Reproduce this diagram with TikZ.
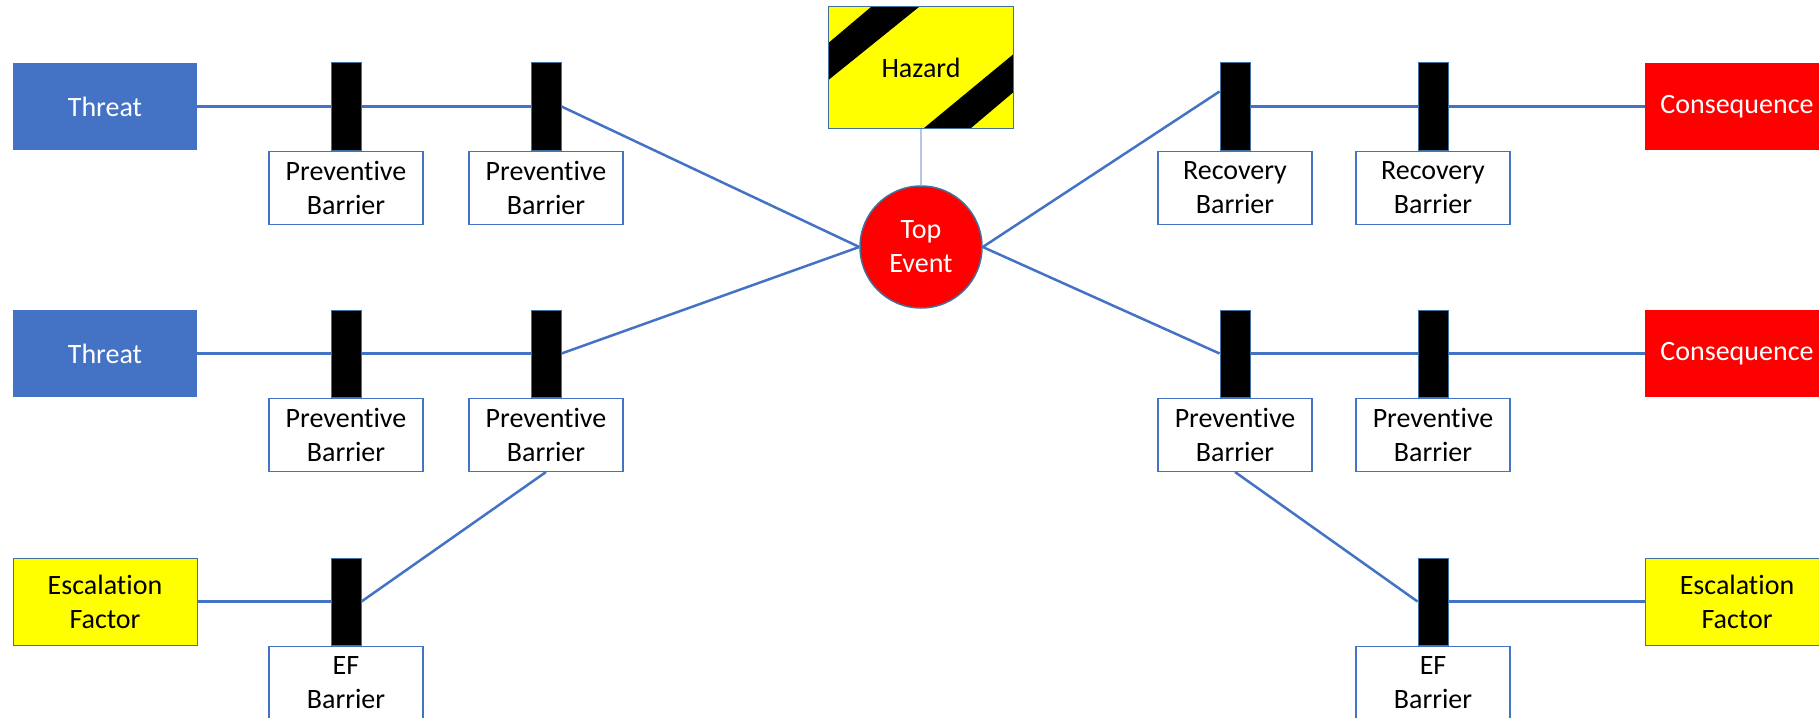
\documentclass[tikz,border=0pt]{standalone}
\usepackage{fontspec}
\setmainfont{Carlito}[Ligatures={NoCommon,NoContextual,NoRare}]
\usetikzlibrary{calc}
\definecolor{threatblue}{HTML}{4472C4}
\definecolor{edgeblue}{HTML}{41719C}
\definecolor{linkblue}{HTML}{4472C4}
\definecolor{hazlink}{HTML}{B4C7E7}
\definecolor{alarmred}{HTML}{FF0000}
\definecolor{warnyellow}{HTML}{FFFF00}

\begin{document}
\begin{tikzpicture}[x=1pt,y=-1pt,
  every node/.style={font=\fontsize{28}{34}\selectfont, inner sep=0pt, align=center},
  threatbox/.style={rectangle, fill=threatblue, text=white, minimum width=184pt, minimum height=87pt},
  consbox/.style={rectangle, fill=alarmred, text=white, minimum width=184pt, minimum height=87pt},
  escbox/.style={rectangle, fill=warnyellow, draw=edgeblue, line width=1pt, minimum width=184pt, minimum height=87pt},
  barbar/.style={rectangle, fill=black, draw=edgeblue, line width=1pt, minimum width=30pt, minimum height=87pt},
  barlabel/.style={rectangle, fill=white, draw=linkblue, line width=1.5pt, minimum width=154pt, minimum height=73pt, anchor=north},
  topevent/.style={circle, fill=alarmred, draw=edgeblue, line width=1.5pt, minimum size=122pt, text=white},
  hazardbox/.style={rectangle, fill=warnyellow, minimum width=184pt, minimum height=122pt},
  hazardedge/.style={draw=edgeblue, line width=1pt},
  link/.style={draw=linkblue, line width=2.5pt},
  hazlinkstyle/.style={draw=hazlink, line width=1.5pt},
]
\useasboundingbox (0,0) rectangle (1819,717);

% hazard sign with its two warning stripes, and the top event
\node[hazardbox] (hazard) at (921,67.5) {};
\begin{scope}
  \clip (hazard.north west) rectangle (hazard.south east);
  \fill[black] ($(hazard.north west)+(-2,38)$) -- ($(hazard.north west)+(43,0)$)
    -- ($(hazard.north west)+(91,0)$) -- ($(hazard.north west)+(-2,75)$) -- cycle;
  \fill[black] ($(hazard.south east)+(-90,0)$) -- ($(hazard.south east)+(2,-76)$)
    -- ($(hazard.south east)+(2,-38)$) -- ($(hazard.south east)+(-43,0)$) -- cycle;
\end{scope}
\draw[hazardedge] (hazard.north west) rectangle (hazard.south east);
\node (hazardtext) at (hazard.center) {Hazard};
\node[topevent] (top) at (921,247) {Top\\Event};

% left side, first threat line
\node[threatbox] (t1) at (105,106.5) {Threat};
\node[barbar] (b11) at (346,106.5) {};
\node[barlabel] (l11) at (b11.south) {Preventive\\Barrier};
\node[barbar] (b12) at (546,106.5) {};
\node[barlabel] (l12) at (b12.south) {Preventive\\Barrier};

% left side, second threat line
\node[threatbox] (t2) at (105,353.5) {Threat};
\node[barbar] (b21) at (346,353.5) {};
\node[barlabel] (l21) at (b21.south) {Preventive\\Barrier};
\node[barbar] (b22) at (546,353.5) {};
\node[barlabel] (l22) at (b22.south) {Preventive\\Barrier};

% left escalation factor
\node[escbox] (ef1) at (105,601.5) {Escalation\\Factor};
\node[barbar] (e1) at (346,601.5) {};
\node[barlabel] (le1) at (e1.south) {EF\\Barrier};

% right side, first consequence line
\node[barbar] (r11) at (1235,106.5) {};
\node[barlabel] (rl11) at (r11.south) {Recovery\\Barrier};
\node[barbar] (r12) at (1433,106.5) {};
\node[barlabel] (rl12) at (r12.south) {Recovery\\Barrier};
\node[consbox] (c1) at (1737,106.5) {Consequence};

% right side, second consequence line
\node[barbar] (r21) at (1235,353.5) {};
\node[barlabel] (rl21) at (r21.south) {Preventive\\Barrier};
\node[barbar] (r22) at (1433,353.5) {};
\node[barlabel] (rl22) at (r22.south) {Preventive\\Barrier};
\node[consbox] (c2) at (1737,353.5) {Consequence};

% right escalation factor
\node[barbar] (e2) at (1433,601.5) {};
\node[barlabel] (le2) at (e2.south) {EF\\Barrier};
\node[escbox] (ef2) at (1737,601.5) {Escalation\\Factor};

% connectors
\draw[hazlinkstyle] (hazard.south) -- (top.north);

\draw[link] (t1.east) -- (b11.west);
\draw[link] (b11.east) -- (b12.west);
\draw[link] (b12.east) -- (top.west);

\draw[link] (t2.east) -- (b21.west);
\draw[link] (b21.east) -- (b22.west);
\draw[link] (b22.east) -- (top.west);

\draw[link] (ef1.east) -- (e1.west);
\draw[link] (l22.south) -- (e1.east);

\draw[link] (top.east) -- ([yshift=15pt]r11.west);
\draw[link] (r11.east) -- (r12.west);
\draw[link] (r12.east) -- (c1.west);

\draw[link] (top.east) -- (r21.west);
\draw[link] (r21.east) -- (r22.west);
\draw[link] (r22.east) -- (c2.west);

\draw[link] (rl21.south) -- (e2.west);
\draw[link] (e2.east) -- (ef2.west);
\end{tikzpicture}
\end{document}
